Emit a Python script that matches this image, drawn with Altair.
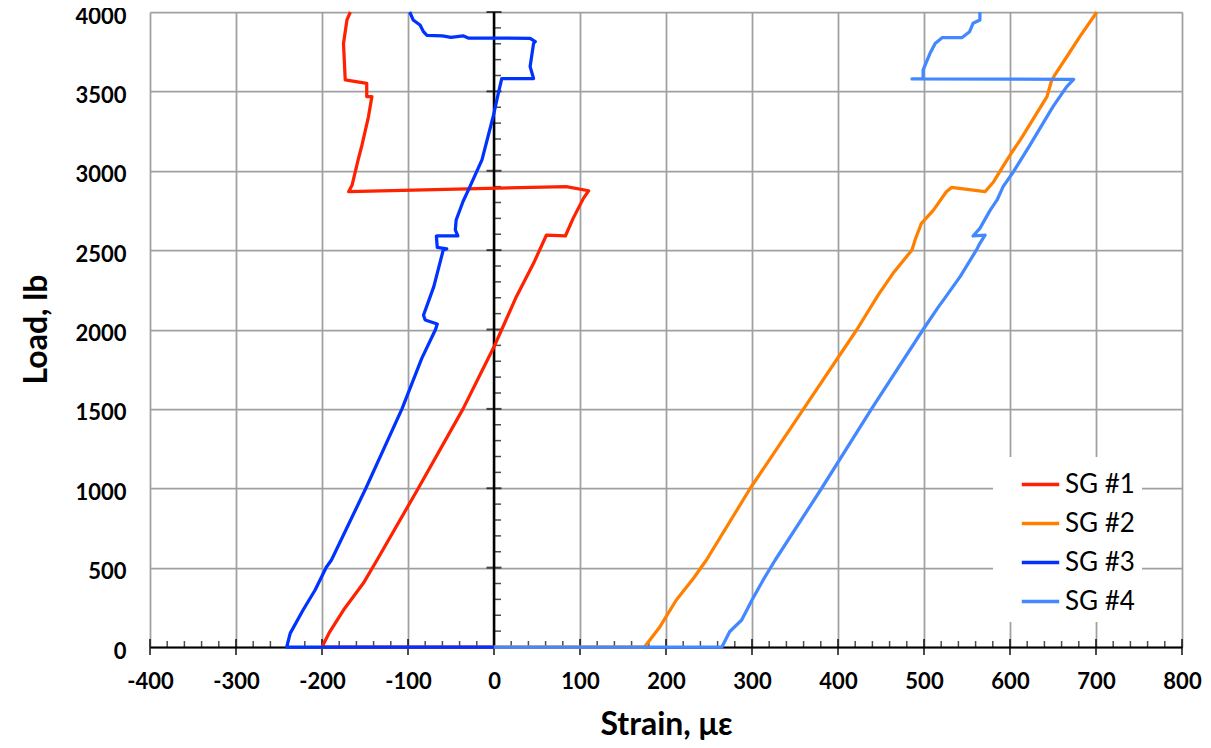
import altair as alt
import pandas as pd

series_names = ["SG #1", "SG #2", "SG #3", "SG #4"]
series_colors = ["#FF2200", "#FF8000", "#0033FF", "#4488FF"]

sg1_strain = [0, -200, -191, -175, -152, -136, -88, -36, 0, 9, 26, 46, 61, 83, 92, 104, 110, 84,
              -169, -165, -158, -154, -146, -142, -148, -148, -173, -175, -171, -167]
sg1_load = [0, 0, 96, 233, 401, 548, 1000, 1500, 1891, 2000, 2207, 2417, 2595, 2589, 2700, 2826, 2874, 2900,
            2868, 2910, 3068, 3151, 3340, 3467, 3467, 3551, 3572, 3802, 3950, 4000]

sg2_strain = [0, 175, 193, 212, 232, 247, 298, 360, 422, 447, 464, 486, 490, 497, 511, 526, 532, 571,
              581, 594, 604, 612, 631, 643, 648, 652, 666, 681, 701]
sg2_load = [0, 0, 128, 296, 433, 548, 1000, 1500, 2000, 2220, 2354, 2501, 2570, 2668, 2752, 2868, 2895, 2868,
            2931, 3047, 3131, 3194, 3362, 3467, 3562, 3603, 3718, 3843, 4000]

sg3_strain = [0, -241, -237, -222, -208, -195, -189, -149, -107, -84, -68, -66, -80, -82, -70, -59, -55, -66,
              -67, -42, -45, -44, -36, -28, -14, -1, 5, 9, 46, 42, 46, 48, 42, -30, -36, -50, -60, -78,
              -82, -86, -94, -98]
sg3_load = [0, 0, 86, 233, 359, 502, 548, 1000, 1500, 1818, 2000, 2035, 2060, 2090, 2270, 2501, 2508, 2517,
            2589, 2589, 2627, 2690, 2806, 2900, 3068, 3340, 3488, 3581, 3581, 3656, 3802, 3813, 3834, 3836,
            3850, 3840, 3850, 3853, 3876, 3918, 3950, 4000]

sg4_strain = [0, 265, 274, 288, 300, 313, 327, 381, 439, 499, 517, 524, 542, 561, 565, 571, 557, 565, 577,
              585, 592, 604, 623, 650, 666, 674, 486, 499, 499, 507, 513, 521, 544, 553, 557, 565, 565]
sg4_load = [0, 0, 96, 170, 296, 422, 548, 1000, 1500, 2000, 2144, 2196, 2333, 2501, 2543, 2595, 2589, 2637,
            2752, 2816, 2900, 2994, 3160, 3404, 3530, 3576, 3578, 3581, 3635, 3740, 3802, 3838, 3838, 3876,
            3929, 3950, 4000]

x_major = list(range(-400, 801, 100))
y_major = list(range(0, 4001, 500))
x_minor = [v for v in range(-400, 801, 20) if v % 100 != 0]
y_minor = [v for v in range(0, 4001, 100) if v % 500 != 0]

rows = []
for name, xs, ys in zip(series_names, [sg1_strain, sg2_strain, sg3_strain, sg4_strain],
                        [sg1_load, sg2_load, sg3_load, sg4_load]):
    for i, (sx, ly) in enumerate(zip(xs, ys)):
        rows.append({"series": name, "strain": sx, "load": ly, "idx": i})
df = pd.DataFrame(rows)

FONT = "Lato"
x_scale = alt.Scale(domain=[-400, 800], nice=False, zero=False)
y_scale = alt.Scale(domain=[0, 4000], nice=False, zero=False)

x_axis = alt.Axis(values=x_major, title="Strain, με", grid=True, gridColor="#A0A0A0", gridWidth=1.75,
                  ticks=False, domain=True, domainColor="black", domainWidth=2,
                  labelFont=FONT, labelFontWeight="bold", labelFontSize=22, labelColor="black",
                  labelPadding=24, labelExpr="'' + datum.value", labelFlush=False,
                  titleFont=FONT, titleFontWeight="bold", titleFontSize=32, titleColor="black",
                  titleY=87, titleBaseline="alphabetic")
y_axis = alt.Axis(values=y_major, title="Load, lb", grid=True, gridColor="#A0A0A0", gridWidth=1.75,
                  ticks=False, domain=False,
                  labelFont=FONT, labelFontWeight="bold", labelFontSize=22, labelColor="black",
                  labelPadding=24, labelOffset=4, labelExpr="'' + datum.value", labelFlush=False,
                  titleFont=FONT, titleFontWeight="bold", titleFontSize=32, titleColor="black",
                  titleX=-104, titleY=317, titleBaseline="alphabetic", titleAngle=270)


def X():
    return alt.X("strain:Q", scale=x_scale, axis=x_axis)


def Y():
    return alt.Y("load:Q", scale=y_scale, axis=y_axis)


lines = alt.Chart(df).mark_line(strokeWidth=3.25, strokeJoin="round").encode(
    x=X(), y=Y(),
    color=alt.Color("series:N", scale=alt.Scale(domain=series_names, range=series_colors),
                    legend=alt.Legend(title=None, orient="none", legendX=843, legendY=445,
                                      fillColor="white", padding=7, symbolOffset=20,
                                      symbolType="stroke", symbolSize=1400, symbolStrokeWidth=3.5,
                                      labelFont=FONT, labelFontSize=26, labelColor="black",
                                      labelOffset=4, rowPadding=5)),
    order="idx:Q",
)

yaxis_line = alt.Chart(pd.DataFrame({"strain": [0], "load": [0], "load2": [4000]})).mark_rule(
    color="black", strokeWidth=2.5).encode(x=X(), y=Y(), y2="load2:Q")

xmaj = alt.Chart(pd.DataFrame({"strain": x_major, "load": [0] * len(x_major)})).mark_tick(
    orient="vertical", size=16, thickness=2, color="black").encode(x=X(), y=Y())
xmin = alt.Chart(pd.DataFrame({"strain": x_minor, "load": [0] * len(x_minor)})).mark_tick(
    orient="vertical", size=6, thickness=1.5, color="black", yOffset=-3).encode(x=X(), y=Y())
ymaj = alt.Chart(pd.DataFrame({"strain": [0] * len(y_major), "load": y_major})).mark_tick(
    orient="horizontal", size=15, thickness=2, color="black").encode(x=X(), y=Y())
ymin = alt.Chart(pd.DataFrame({"strain": [0] * len(y_minor), "load": y_minor})).mark_tick(
    orient="horizontal", size=7, thickness=1.5, color="black", xOffset=3.5).encode(x=X(), y=Y())

chart = alt.layer(yaxis_line, xmaj, xmin, ymaj, ymin, lines).properties(
    width=1032, height=635,
    autosize=alt.AutoSizeParams(type="none"),
    padding={"left": 142, "top": 4, "right": 21, "bottom": 93},
    background="white",
).configure_view(stroke=None)

chart.save("out.html", embed_options={"renderer": "svg", "actions": False})
